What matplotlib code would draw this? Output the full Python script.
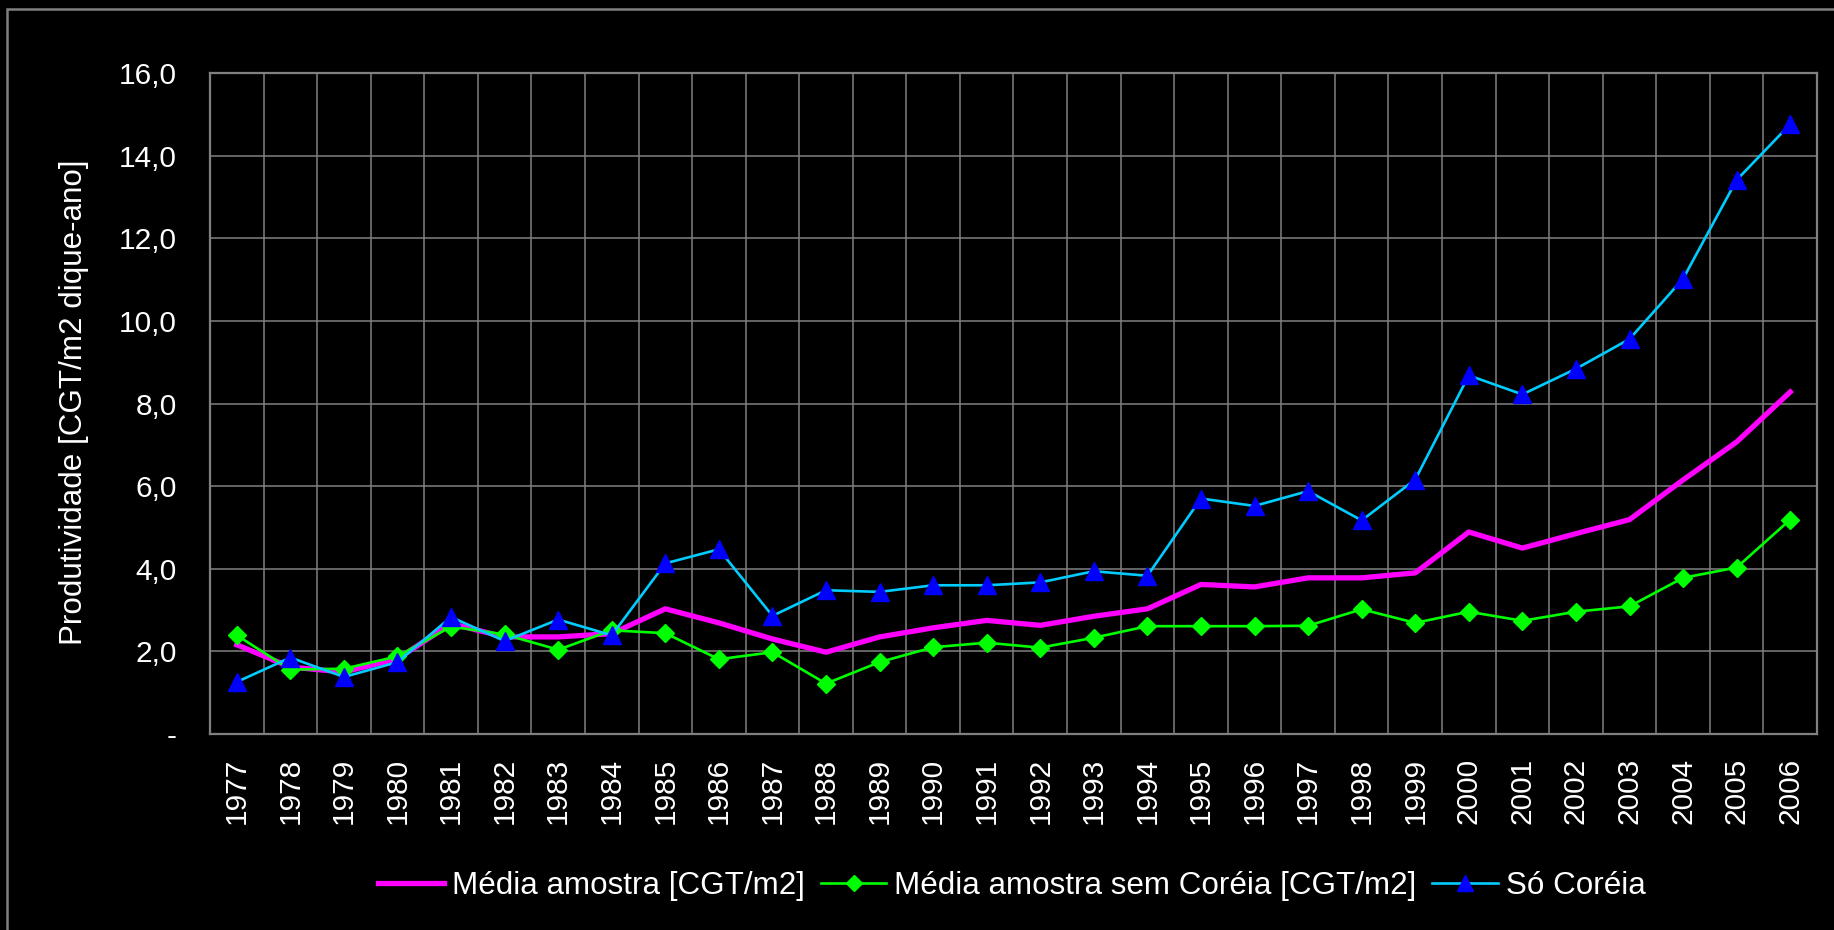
import numpy as np
import matplotlib
matplotlib.use("Agg")
import matplotlib.pyplot as plt
from matplotlib.patches import Rectangle
from matplotlib.ticker import FixedLocator, FuncFormatter

plt.rcParams['font.family'] = ['Liberation Sans', 'DejaVu Sans']

anos = [str(a) for a in range(1977, 2007)]

media_amostra = [2.16, 1.62, 1.50, 1.82, 2.67, 2.35, 2.35, 2.43, 3.03, 2.69,
                 2.30, 1.98, 2.35, 2.57, 2.75, 2.63, 2.85, 3.03, 3.62, 3.56,
                 3.78, 3.78, 3.90, 4.89, 4.50, 4.85, 5.19, 6.15, 7.07, 8.28]

media_sem_coreia = [2.39, 1.56, 1.58, 1.88, 2.60, 2.41, 2.04, 2.51, 2.44, 1.81,
                    1.98, 1.22, 1.74, 2.10, 2.21, 2.09, 2.33, 2.61, 2.61, 2.61,
                    2.62, 3.02, 2.69, 2.96, 2.74, 2.96, 3.09, 3.78, 4.03, 5.19]

so_coreia = [1.26, 1.85, 1.38, 1.74, 2.83, 2.25, 2.77, 2.39, 4.13, 4.47,
             2.86, 3.48, 3.44, 3.60, 3.60, 3.67, 3.94, 3.83, 5.70, 5.52,
             5.88, 5.17, 6.16, 8.68, 8.22, 8.84, 9.56, 11.02, 13.41, 14.76]

W, H = 1834, 930
fig = plt.figure(figsize=(W / 100, H / 100), dpi=100, facecolor='black')
ax = fig.add_axes([210 / W, 1 - 734 / H, (1817 - 210) / W, (734 - 73) / H])
ax.set_facecolor('black')

cinza = '#808080'
fs = 21.5
fs_txt = 22.6

x = np.arange(len(anos))
l1, = ax.plot(x, media_amostra, color='#FF00FF', lw=3.8, zorder=3,
              solid_joinstyle='round')
l2, = ax.plot(x, media_sem_coreia, color='#00FF00', lw=1.9, marker='D',
              ms=9.5, mfc='#00FF00', mec='#00FF00', zorder=4)
l3, = ax.plot(x, so_coreia, color='#00CCFF', lw=1.9, marker='^',
              ms=13, mfc='#0000FF', mec='#0000FF', zorder=5)

ax.set_xlim(-0.5, len(anos) - 0.5)
ax.set_ylim(0, 16)

ax.set_xticks(x)
ax.set_xticklabels(anos, rotation=90, color='white', fontsize=fs)
ax.xaxis.set_minor_locator(FixedLocator(np.arange(-0.5, len(anos), 1)))
ax.set_yticks(np.arange(0, 17, 2))
ax.yaxis.set_major_formatter(FuncFormatter(
    lambda v, p: '-' if v == 0 else ('%.1f' % v).replace('.', ',')))
ax.tick_params(axis='y', colors='white', labelsize=fs, length=0, pad=24)
ax.tick_params(axis='x', which='major', length=0, pad=17)
ax.tick_params(axis='x', which='minor', length=0)

ax.grid(True, axis='y', which='major', color=cinza, lw=1.1)
ax.grid(True, axis='x', which='minor', color=cinza, lw=1.1)
ax.set_axisbelow(True)
for s in ax.spines.values():
    s.set_color(cinza)
    s.set_linewidth(1.6)

fig.text(74 / W, 1 - 402 / H, 'Produtividade [CGT/m2 dique-ano]',
         rotation=90, ha='center', va='center', color='white', fontsize=fs_txt)

fig.legend([l1, l2, l3],
           ['Média amostra [CGT/m2]', 'Média amostra sem Coréia [CGT/m2]',
            'Só Coréia'],
           loc='center', bbox_to_anchor=(1012 / W, 1 - 886 / H), ncol=3,
           frameon=False, fontsize=fs_txt, labelcolor='white',
           handlelength=2.1, handletextpad=0.25, columnspacing=0.5,
           markerscale=0.9)

# moldura externa do gráfico
fig.add_artist(Rectangle((7 / W, -0.1), 2, 1 - 9 / H + 0.1,
                         transform=fig.transFigure, fill=False,
                         edgecolor=cinza, lw=1.8))

fig.savefig('out.png', dpi=100, facecolor='black')
